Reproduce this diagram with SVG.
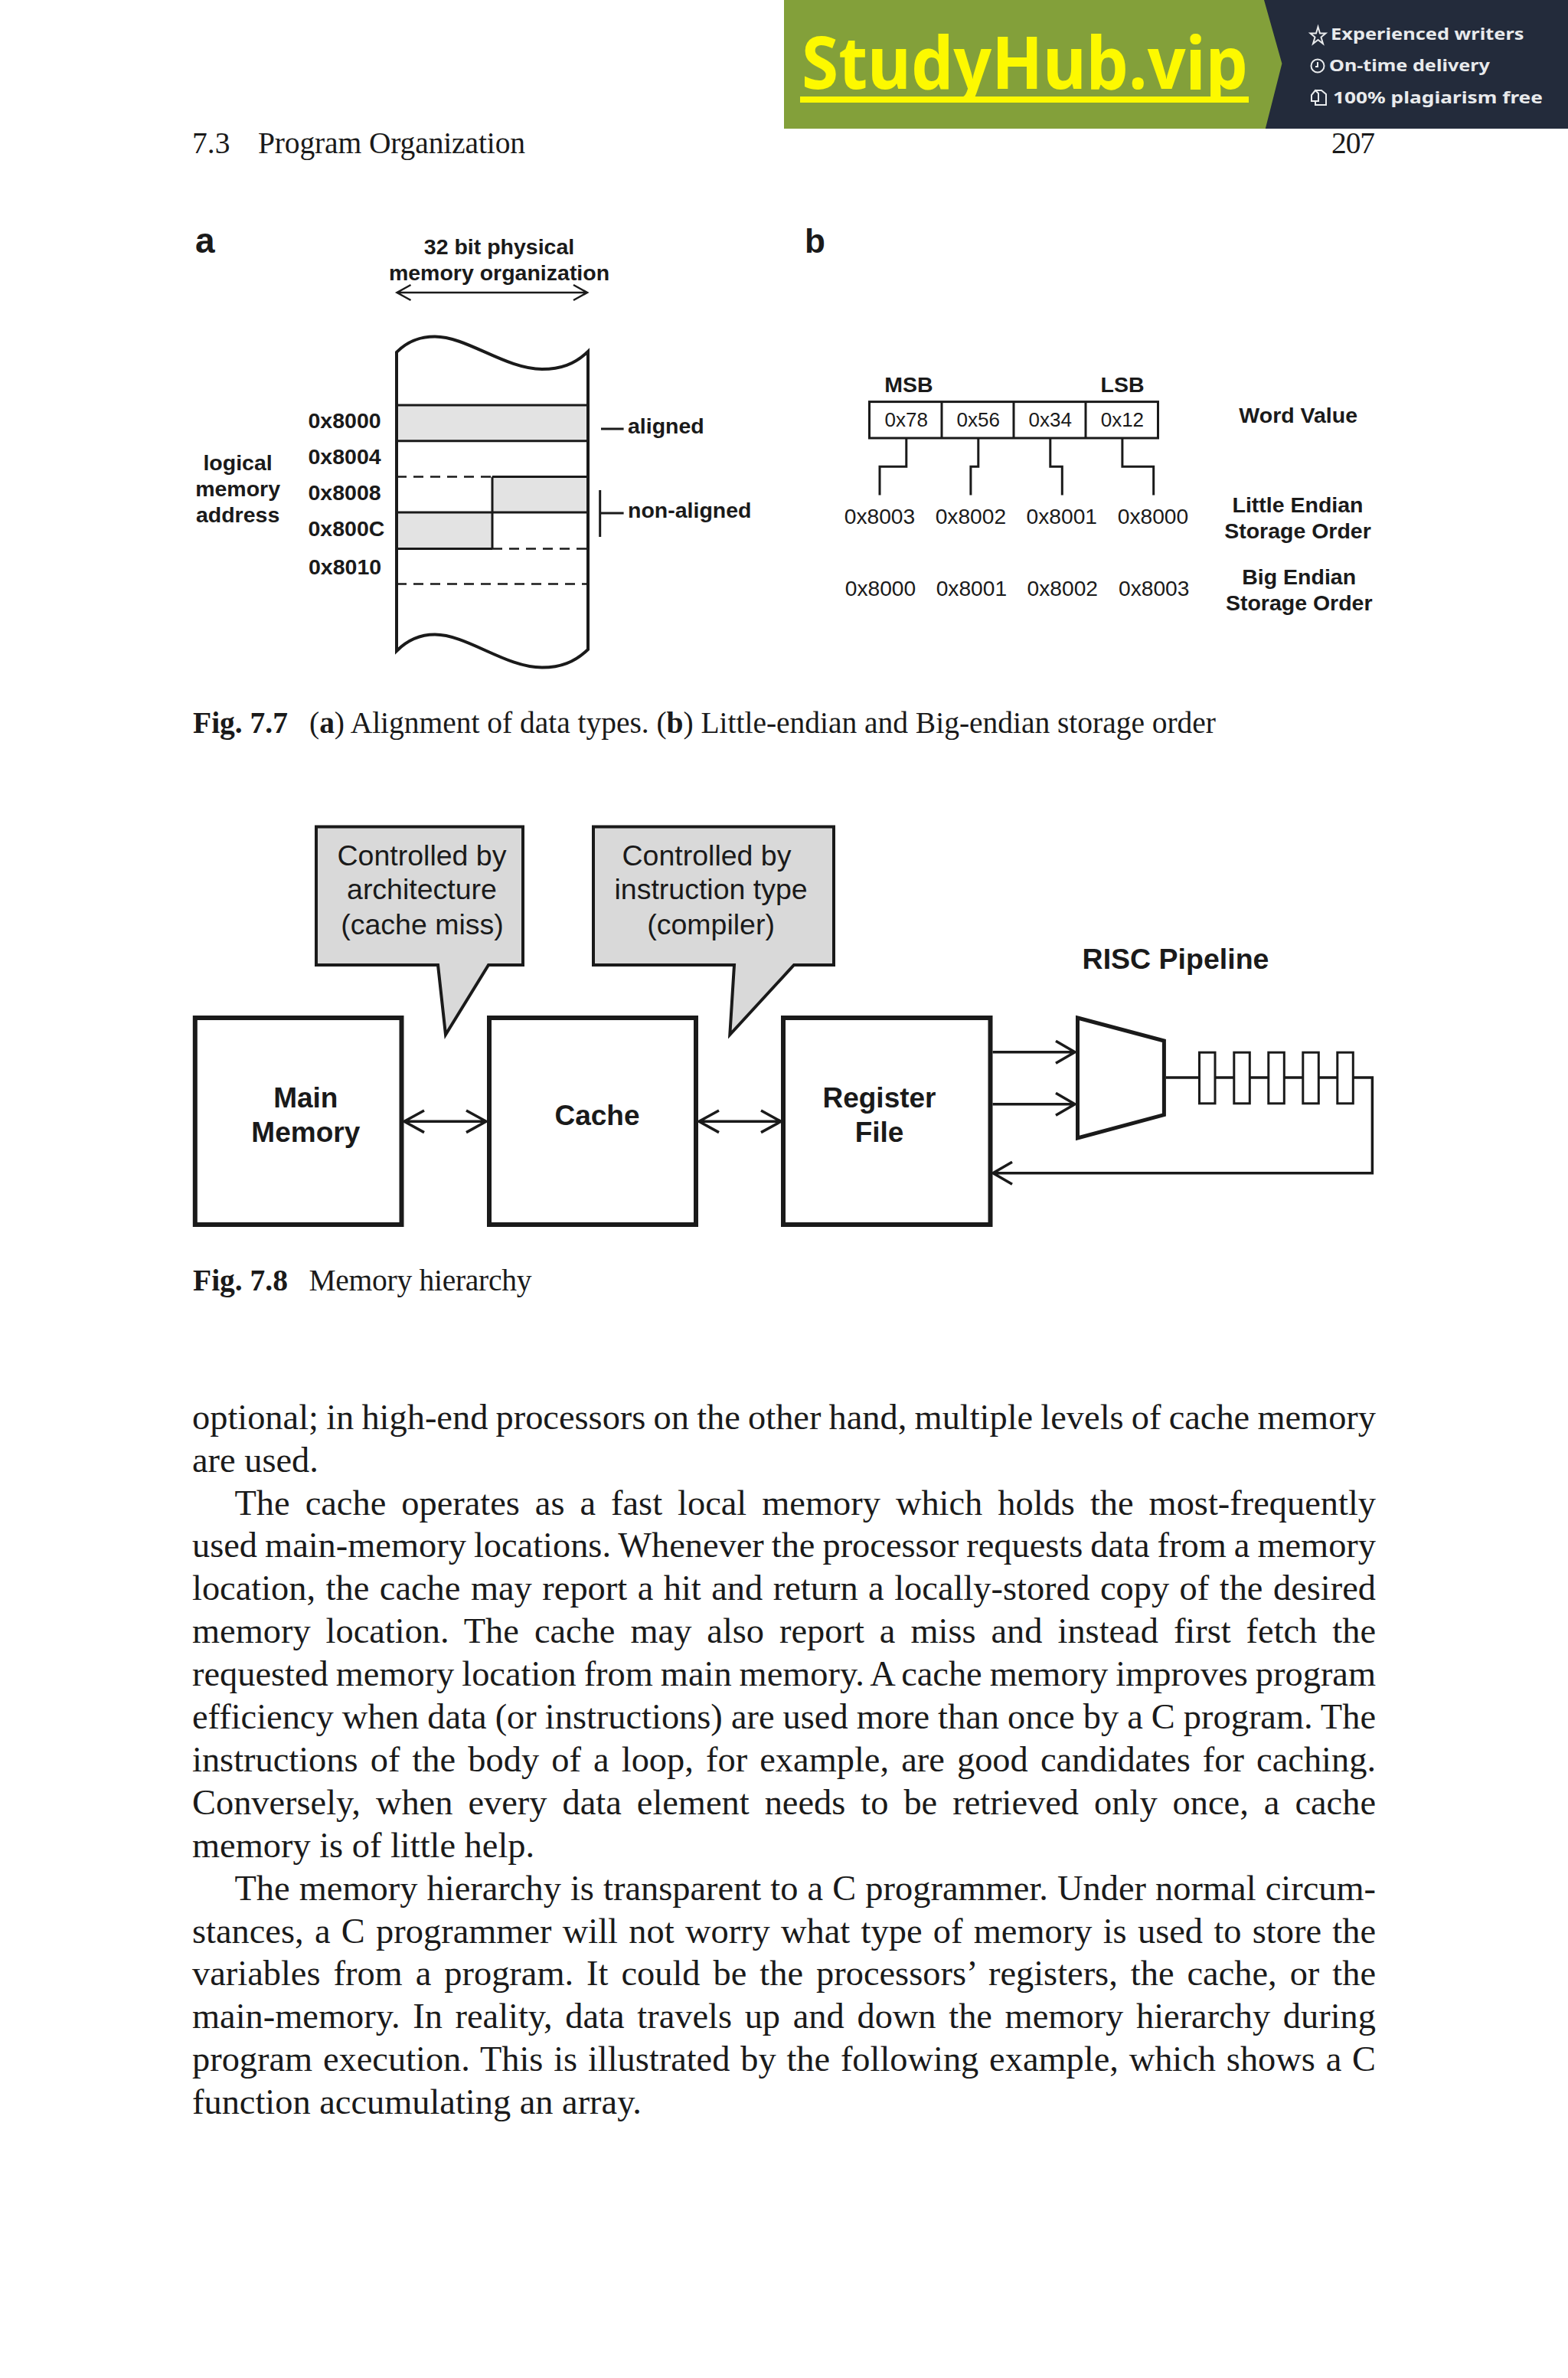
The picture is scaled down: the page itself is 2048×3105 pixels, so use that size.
<svg xmlns="http://www.w3.org/2000/svg" width="2048" height="3105" viewBox="0 0 2048 3105">
<defs>
<style>
.body{font-family:"Liberation Serif","Times New Roman",serif;font-size:46.4px;fill:#1a1a1a}
.run{font-family:"Liberation Serif","Times New Roman",serif;font-size:39.5px;fill:#1a1a1a}
.sb{font-family:"Liberation Sans",Arial,sans-serif;font-weight:700;fill:#1a1a1a}
.s{font-family:"Liberation Sans",Arial,sans-serif;fill:#1a1a1a}
.m{text-anchor:middle}
.ln{fill:none;stroke:#1a1a1a;stroke-width:3}
.col{fill:none;stroke:#1a1a1a;stroke-width:4}
.dash{fill:none;stroke:#1a1a1a;stroke-width:2.5;stroke-dasharray:13 9}
.box{fill:#fff;stroke:#1a1a1a;stroke-width:6}
.call{fill:#d9d9d9;stroke:#1a1a1a;stroke-width:4}
.wire{fill:none;stroke:#1a1a1a;stroke-width:3.5}
.thin{fill:none;stroke:#1a1a1a;stroke-width:2.5}
.ban{font-family:"Noto Sans",sans-serif;font-weight:700;fill:#e8eaec;font-size:22px}
.ic{fill:none;stroke:#e8eaec;stroke-width:2}
</style>
<clipPath id="logo-clip"><rect x="1024" y="0" width="640" height="134"/></clipPath>
</defs>
<g id="banner">
<rect x="1024" y="0" width="1024" height="168" fill="#83a03a"/>
<polygon points="1651,0 2048,0 2048,168 1652.800,168 1674.400,83" fill="#232b3b"/>
<text x="1047" y="116" font-family="Noto Sans, sans-serif" font-weight="700" font-size="95" fill="#fdf900" textLength="583" lengthAdjust="spacingAndGlyphs" clip-path="url(#logo-clip)">StudyHub.vip</text>
<rect x="1045" y="126" width="586" height="8" fill="#fdf900"/>
<path class="ic" d="M1721.500 35l2.500 8.500 7.500 0-6 5 2.500 8.500-6.500-5-6.500 5 2.500-8.500-6-5 7.500 0z"/>
<circle class="ic" cx="1721" cy="86" r="8.500" stroke-width="2.500"/>
<path class="ic" d="M1721 81v6h-3"/>
<path class="ic" d="M1718 118h8l6 5v14h-14v-5M1718 118l-5 6v8h9v-10z"/>
<text class="ban" x="1738" y="51.500" textLength="252.500" lengthAdjust="spacingAndGlyphs">Experienced writers</text>
<text class="ban" x="1736" y="93" textLength="210" lengthAdjust="spacingAndGlyphs">On-time delivery</text>
<text class="ban" x="1741" y="135" textLength="274" lengthAdjust="spacingAndGlyphs">100% plagiarism free</text>
</g>
<g id="running-head">
<text class="run" x="251" y="200">7.3</text>
<text class="run" x="337" y="200" textLength="349">Program Organization</text>
<text class="run" x="1739" y="200" textLength="57">207</text>
</g>
<g id="fig-7-7a">
<text class="sb" x="255" y="330" font-size="46">a</text>
<g font-size="28.500">
<text class="sb m" x="652" y="331.800">32 bit physical</text>
<text class="sb m" x="652" y="365.600">memory organization</text>
</g>
<g id="memory-column">
<rect x="518" y="529" width="250" height="46.700" fill="#e3e3e3"/>
<rect x="643" y="622.400" width="125" height="46.600" fill="#e3e3e3"/>
<rect x="518" y="669" width="125" height="47.600" fill="#e3e3e3"/>
<path class="col" d="M518 459.800C535 443 552 439.500 568 439.500C610 439.500 660 482 708 482C732 482 750 476 768 459V848C750 865 732 871.500 708 871.500C660 871.500 610 828.600 568 828.600C552 828.600 535 833 518 850Z"/>
<path class="ln" d="M518 529H768M518 575.700H768M643 622.400H768M518 669H768M518 716.600H643M643 622.400V716.600"/>
<path class="dash" d="M518 622.400H643M643 716.600H768M518 762.500H768"/>
</g>
<g font-size="28.500">
<text class="sb" x="402.500" y="559.400">0x8000</text>
<text class="sb" x="402.500" y="606">0x8004</text>
<text class="sb" x="402.500" y="652.800">0x8008</text>
<text class="sb" x="402.500" y="700">0x800C</text>
<text class="sb" x="403" y="749.600">0x8010</text>
<text class="sb m" x="310.600" y="613.900">logical</text>
<text class="sb m" x="310.600" y="647.700">memory</text>
<text class="sb m" x="310.600" y="682">address</text>
<text class="sb" x="820" y="566">aligned</text>
<text class="sb" x="820" y="675.700">non-aligned</text>
</g>
</g>
<g id="fig-7-7b">
<text class="sb" x="1051" y="330" font-size="44">b</text>
<g id="word-value">
<rect x="1135.500" y="524.600" width="377" height="47.400" fill="#fff" stroke="#1a1a1a" stroke-width="3"/>
<path class="ln" d="M1230 524.600V572M1324 524.600V572M1418 524.600V572"/>
<g font-size="26">
<text class="s m" x="1183.800" y="556.800">0x78</text>
<text class="s m" x="1277.800" y="556.800">0x56</text>
<text class="s m" x="1371.800" y="556.800">0x34</text>
<text class="s m" x="1465.900" y="556.800">0x12</text>
</g>
</g>
<g font-size="28.500">
<text class="sb m" x="1187" y="512">MSB</text>
<text class="sb m" x="1466" y="512">LSB</text>
<text class="sb m" x="1695.700" y="552">Word Value</text>
<text class="sb m" x="1695" y="668.600">Little Endian</text>
<text class="sb m" x="1695" y="703.200">Storage Order</text>
<text class="sb m" x="1696.700" y="762.900">Big Endian</text>
<text class="sb m" x="1696.700" y="797">Storage Order</text>
</g>
<g font-size="28.200">
<text class="s m" x="1149" y="683.600">0x8003</text>
<text class="s m" x="1267.900" y="683.600">0x8002</text>
<text class="s m" x="1386.800" y="683.600">0x8001</text>
<text class="s m" x="1506" y="683.600">0x8000</text>
<text class="s m" x="1150" y="777.500">0x8000</text>
<text class="s m" x="1268.900" y="777.500">0x8001</text>
<text class="s m" x="1387.800" y="777.500">0x8002</text>
<text class="s m" x="1507.200" y="777.500">0x8003</text>
</g>
</g>
<g id="caption-7-7">
<text class="run" x="252" y="956.700"><tspan font-weight="700">Fig. 7.7</tspan></text>
<text class="run" x="404" y="956.700" textLength="1184">(<tspan font-weight="700">a</tspan>) Alignment of data types. (<tspan font-weight="700">b</tspan>) Little-endian and Big-endian storage order</text>
</g>
<g id="callout-cache-miss">
<path class="call" d="M413 1079.600H683V1260H638L582 1351L572 1260H413Z"/>
<g font-size="37.500">
<text class="s m" x="551" y="1129.600">Controlled by</text>
<text class="s m" x="551" y="1174.300">architecture</text>
<text class="s m" x="551.500" y="1219.600">(cache miss)</text>
</g>
</g>
<g id="callout-compiler">
<path class="call" d="M775 1079.600H1089V1260H1037L953.300 1351L959 1260H775Z"/>
<g font-size="37.500">
<text class="s m" x="923" y="1129.600">Controlled by</text>
<text class="s m" x="928.600" y="1174.300">instruction type</text>
<text class="s m" x="928.600" y="1219.600">(compiler)</text>
</g>
</g>
<g id="main-memory">
<rect class="box" x="254.800" y="1329" width="269.700" height="270"/>
<text class="sb m" x="399.300" y="1445.700" font-size="37">Main</text>
<text class="sb m" x="399.300" y="1491.400" font-size="37">Memory</text>
</g>
<g id="cache">
<rect class="box" x="639" y="1329" width="270" height="270"/>
<text class="sb m" x="780" y="1469" font-size="37">Cache</text>
</g>
<g id="register-file">
<rect class="box" x="1023" y="1329" width="270.500" height="270"/>
<text class="sb m" x="1148.500" y="1445.700" font-size="37">Register</text>
<text class="sb m" x="1148.500" y="1491" font-size="37">File</text>
</g>
<g id="risc-pipeline">
<text class="sb m" x="1535.500" y="1265" font-size="37.500">RISC Pipeline</text>
<polygon points="1407.500,1329 1520.400,1359 1520.400,1455.700 1407.500,1486" fill="#fff" stroke="#1a1a1a" stroke-width="5"/>
</g>
<g id="connectors">
<path class="thin" d="M518.500 382H767M536.500 372L518.500 382L536.500 392M749 372L767 382L749 392"/>
<path class="ln" d="M785 560H814.600M783.700 640V701M783.700 670H814.600"/>
<path class="ln" d="M1183.800 572V609.300H1149V646.400M1277.800 572V609.300H1267.900V646.400M1371.800 572V609.300H1387.300V646.400M1465.900 572V609.300H1506.700V646.400"/>
<path class="wire" d="M528 1464.300H635M554 1450L528 1464.300L554 1478.600M609 1450L635 1464.300L609 1478.600"/>
<path class="wire" d="M913 1464.300H1020M939 1450L913 1464.300L939 1478.600M994 1450L1020 1464.300L994 1478.600"/>
<path class="wire" d="M1296.500 1373.700H1404M1379 1359.200L1404 1373.700L1379 1388.200"/>
<path class="wire" d="M1296.500 1441.700H1404M1379 1427.200L1404 1441.700L1379 1456.200"/>
<path class="wire" d="M1523 1407H1792.400V1531.700H1297M1322 1517.200L1297 1531.700L1322 1546.200"/>
</g>
<g id="pipeline-registers" fill="#fff" stroke="#1a1a1a" stroke-width="3">
<rect x="1566.500" y="1374.200" width="20.500" height="66.600"/>
<rect x="1611.800" y="1374.200" width="20.500" height="66.600"/>
<rect x="1656.800" y="1374.200" width="20.500" height="66.600"/>
<rect x="1701.800" y="1374.200" width="20.500" height="66.600"/>
<rect x="1746.800" y="1374.200" width="20.500" height="66.600"/>
</g>
<g id="caption-7-8">
<text class="run" x="252" y="1685"><tspan font-weight="700">Fig. 7.8</tspan></text>
<text class="run" x="403.500" y="1685" textLength="291">Memory hierarchy</text>
</g>
<g id="body-text">
<text class="body" x="251" y="1865.700" word-spacing="-1.41" textLength="1546">optional; in high-end processors on the other hand, multiple levels of cache memory</text>
<text class="body" x="251" y="1921.600">are used.</text>
<text class="body" x="306.500" y="1977.500" word-spacing="8.38" textLength="1490.500">The cache operates as a fast local memory which holds the most-frequently</text>
<text class="body" x="251" y="2033.400" word-spacing="-1.59" textLength="1546">used main-memory locations. Whenever the processor requests data from a memory</text>
<text class="body" x="251" y="2089.300" word-spacing="1.89" textLength="1546">location, the cache may report a hit and return a locally-stored copy of the desired</text>
<text class="body" x="251" y="2145.200" word-spacing="8.41" textLength="1546">memory location. The cache may also report a miss and instead first fetch the</text>
<text class="body" x="251" y="2201.100" word-spacing="-1.59" textLength="1546">requested memory location from main memory. A cache memory improves program</text>
<text class="body" x="251" y="2257" word-spacing="-0.56" textLength="1546">efficiency when data (or instructions) are used more than once by a C program. The</text>
<text class="body" x="251" y="2312.900" word-spacing="4.52" textLength="1546">instructions of the body of a loop, for example, are good candidates for caching.</text>
<text class="body" x="251" y="2368.800" word-spacing="8.44" textLength="1546">Conversely, when every data element needs to be retrieved only once, a cache</text>
<text class="body" x="251" y="2424.700">memory is of little help.</text>
<text class="body" x="306.500" y="2480.600" word-spacing="0.49" textLength="1490.500">The memory hierarchy is transparent to a C programmer. Under normal circum-</text>
<text class="body" x="251" y="2536.500" word-spacing="2.7" textLength="1546">stances, a C programmer will not worry what type of memory is used to store the</text>
<text class="body" x="251" y="2592.400" word-spacing="5.38" textLength="1546">variables from a program. It could be the processors’ registers, the cache, or the</text>
<text class="body" x="251" y="2648.300" word-spacing="5.07" textLength="1546">main-memory. In reality, data travels up and down the memory hierarchy during</text>
<text class="body" x="251" y="2704.200" word-spacing="2.21" textLength="1546">program execution. This is illustrated by the following example, which shows a C</text>
<text class="body" x="251" y="2760.100">function accumulating an array.</text>
</g>
</svg>
